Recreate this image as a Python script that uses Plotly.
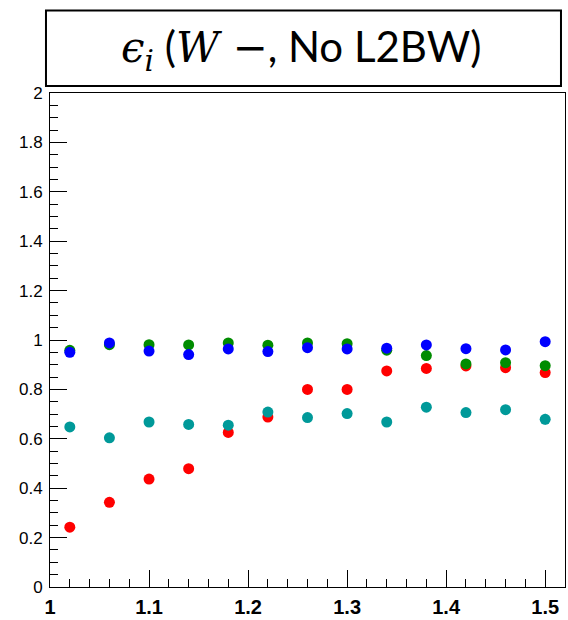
import plotly.graph_objects as go

# Bin centres (x) and efficiencies for the four selections
x_vals = [1.02, 1.06, 1.10, 1.14, 1.18, 1.22, 1.26, 1.30, 1.34, 1.38, 1.42, 1.46, 1.50]

eff_red = [0.242, 0.343, 0.437, 0.479, 0.626, 0.688, 0.800, 0.800, 0.875, 0.885, 0.895, 0.888, 0.868]
eff_green = [0.958, 0.981, 0.981, 0.980, 0.988, 0.979, 0.988, 0.985, 0.959, 0.937, 0.903, 0.908, 0.896]
eff_blue = [0.950, 0.988, 0.955, 0.941, 0.964, 0.953, 0.969, 0.964, 0.967, 0.980, 0.965, 0.960, 0.993]
eff_teal = [0.648, 0.604, 0.668, 0.658, 0.655, 0.708, 0.686, 0.702, 0.668, 0.728, 0.706, 0.718, 0.679]

err_red = [0.010, 0.010, 0.010, 0.010, 0.010, 0.010, 0.010, 0.010, 0.010, 0.012, 0.012, 0.012, 0.020]
err_green = [0.008, 0.008, 0.008, 0.008, 0.008, 0.008, 0.008, 0.008, 0.010, 0.012, 0.012, 0.012, 0.015]
err_blue = [0.008, 0.008, 0.008, 0.008, 0.008, 0.008, 0.008, 0.008, 0.010, 0.010, 0.010, 0.010, 0.012]
err_teal = [0.012, 0.012, 0.012, 0.012, 0.012, 0.012, 0.012, 0.012, 0.012, 0.015, 0.015, 0.015, 0.022]

series = [
    ("red", eff_red, err_red, "#ff0000"),
    ("green", eff_green, err_green, "#008c00"),
    ("blue", eff_blue, err_blue, "#0000ff"),
    ("teal", eff_teal, err_teal, "#009999"),
]

fig = go.Figure()
for name, yv, ev, col in series:
    fig.add_trace(go.Scatter(
        x=x_vals, y=yv, mode="markers", name=name,
        marker=dict(symbol="circle", size=11, color=col, line=dict(width=0)),
        error_y=dict(type="data", array=ev, visible=True, color=col, thickness=1, width=0),
        showlegend=False,
    ))

axis_common = dict(
    showgrid=False, zeroline=False,
    showline=True, linecolor="black", linewidth=1, mirror=True,
    ticks="inside", tickcolor="black", tickwidth=1, ticklen=17,
)

fig.update_xaxes(
    **axis_common,
    range=[1.0, 1.52], dtick=0.1, tick0=1.0,
    minor=dict(ticks="inside", dtick=0.02, ticklen=8, tickcolor="black", tickwidth=1),
    tickfont=dict(family="Liberation Sans", size=20, color="black", weight="bold"),
    ticklabelstandoff=2,
)
fig.update_yaxes(
    **axis_common,
    range=[0, 2], dtick=0.2, tick0=0,
    minor=dict(ticks="inside", dtick=0.05, ticklen=8, tickcolor="black", tickwidth=1),
    tickfont=dict(family="Liberation Sans", size=17, color="black"),
    ticklabelstandoff=3,
)

# Title box above the frame
fig.add_shape(
    type="rect", xref="paper", yref="paper",
    x0=-0.0078, x1=0.9922, y0=1.014, y1=1.167,
    line=dict(color="black", width=2), fillcolor="white",
)
math = "font-family:'DejaVu Serif'"
title_text = (
    f"<span style=\"{math}\"><i>ϵ</i><sub><i>i</i></sub></span>"
    f" (<span style=\"{math}\"><i>W</i> −</span>, No L2BW)"
)
fig.add_annotation(
    xref="paper", yref="paper", x=0.488, y=1.088,
    xanchor="center", yanchor="middle",
    text=title_text, showarrow=False,
    font=dict(family="Lato", size=42, color="black"),
)

fig.update_layout(
    width=568, height=620,
    margin=dict(l=50, r=2, t=93, b=27),
    paper_bgcolor="white", plot_bgcolor="white",
)

fig.write_html("out.html")
